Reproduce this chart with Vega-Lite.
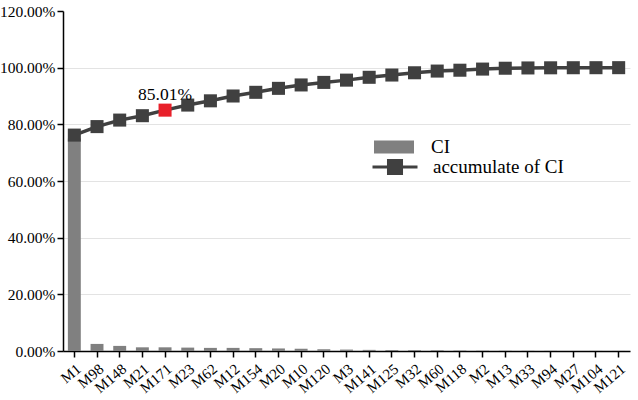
{
  "$schema": "https://vega.github.io/schema/vega-lite/v6.json",
  "width": 567,
  "height": 340,
  "autosize": "none",
  "padding": {"left": 63, "top": 11, "right": 8, "bottom": 49},
  "background": "white",
  "config": {
    "view": {"stroke": null},
    "font": "Liberation Serif",
    "axis": {
      "labelFont": "Liberation Serif",
      "labelColor": "black",
      "domainColor": "black",
      "tickColor": "black",
      "domainWidth": 1.5,
      "tickWidth": 1.5,
      "tickSize": 6,
      "title": null
    },
    "legend": {
      "labelFont": "Liberation Serif",
      "labelFontSize": 19,
      "labelColor": "black",
      "padding": 0
    }
  },
  "data": {
    "values": [
      {"model": "M1", "ci": 0.75, "cum": 0.762},
      {"model": "M98", "ci": 0.025, "cum": 0.792},
      {"model": "M148", "ci": 0.018, "cum": 0.815},
      {"model": "M21", "ci": 0.013, "cum": 0.8305},
      {"model": "M171", "ci": 0.013, "cum": 0.8501},
      {"model": "M23", "ci": 0.012, "cum": 0.868},
      {"model": "M62", "ci": 0.011, "cum": 0.883},
      {"model": "M12", "ci": 0.011, "cum": 0.9},
      {"model": "M154", "ci": 0.01, "cum": 0.913},
      {"model": "M20", "ci": 0.009, "cum": 0.927},
      {"model": "M10", "ci": 0.008, "cum": 0.939},
      {"model": "M120", "ci": 0.006, "cum": 0.948},
      {"model": "M3", "ci": 0.005, "cum": 0.956},
      {"model": "M141", "ci": 0.004, "cum": 0.966},
      {"model": "M125", "ci": 0.0035, "cum": 0.974},
      {"model": "M32", "ci": 0.003, "cum": 0.982},
      {"model": "M60", "ci": 0.0025, "cum": 0.988},
      {"model": "M118", "ci": 0.0015, "cum": 0.991},
      {"model": "M2", "ci": 0.001, "cum": 0.995},
      {"model": "M13", "ci": 0.0008, "cum": 0.998},
      {"model": "M33", "ci": 0.0006, "cum": 0.999},
      {"model": "M94", "ci": 0.0005, "cum": 0.9995},
      {"model": "M27", "ci": 0.0004, "cum": 0.9998},
      {"model": "M104", "ci": 0.0003, "cum": 0.9999},
      {"model": "M121", "ci": 0.0002, "cum": 1.0}
    ]
  },
  "encoding": {
    "x": {
      "field": "model",
      "type": "nominal",
      "sort": null,
      "scale": {"paddingInner": 0.43, "paddingOuter": 0.215},
      "axis": {
        "labelAngle": -40,
        "labelAlign": "right",
        "labelBaseline": "top",
        "labelFont": "Liberation Serif",
        "labelFontSize": 15,
        "labelPadding": 4,
        "labelOffset": 0,
        "grid": false
      }
    }
  },
  "layer": [
    {
      "mark": {"type": "bar", "fill": "#808080"},
      "encoding": {
        "y": {
          "field": "ci",
          "type": "quantitative",
          "scale": {"domain": [0, 1.2]},
          "axis": {
            "format": ".2%",
            "values": [0, 0.2, 0.4, 0.6, 0.8, 1.0, 1.2],
            "labelFont": "Liberation Serif",
            "labelFontSize": 15.5,
            "labelPadding": 2,
            "grid": true,
            "gridColor": "#e3e3e3",
            "gridWidth": 1,
            "gridOpacity": {"condition": {"test": "datum.value >= 1.19", "value": 0}, "value": 1}
          }
        },
        "fill": {
          "datum": "CI",
          "scale": {"range": ["#808080"]},
          "legend": {
            "orient": "none",
            "legendX": 311,
            "legendY": 116,
            "title": null,
            "symbolType": "M-1,-0.33H1V0.33H-1Z",
            "symbolSize": 1600,
            "symbolStrokeWidth": 0,
            "labelOffset": 17
          }
        }
      }
    },
    {
      "mark": {"type": "line", "color": "#404040", "strokeWidth": 3.5},
      "encoding": {
        "y": {"field": "cum", "type": "quantitative"},
        "stroke": {
          "datum": "accumulate of CI",
          "scale": {"range": ["#404040"]},
          "legend": {
            "orient": "none",
            "legendX": 308,
            "legendY": 132,
            "title": null,
            "symbolType": "M-1,0H1M-0.29,-0.29H0.29V0.29H-0.29Z",
            "symbolSize": 2025,
            "symbolStrokeWidth": 3,
            "symbolFillColor": "#404040",
            "labelOffset": 14
          }
        }
      }
    },
    {
      "mark": {"type": "point", "shape": "square", "filled": true, "size": 170, "opacity": 1},
      "encoding": {
        "y": {"field": "cum", "type": "quantitative"},
        "color": {
          "condition": {"test": "datum.model === 'M171'", "value": "#e8202a"},
          "value": "#404040"
        }
      }
    },
    {
      "transform": [{"filter": "datum.model === 'M171'"}],
      "mark": {"type": "text", "font": "Liberation Serif", "fontSize": 17.5, "color": "black", "dy": -15},
      "encoding": {
        "y": {"field": "cum", "type": "quantitative"},
        "text": {"field": "cum", "type": "quantitative", "format": ".2%"}
      }
    }
  ],
  "resolve": {"scale": {"fill": "independent", "stroke": "independent"}}
}
